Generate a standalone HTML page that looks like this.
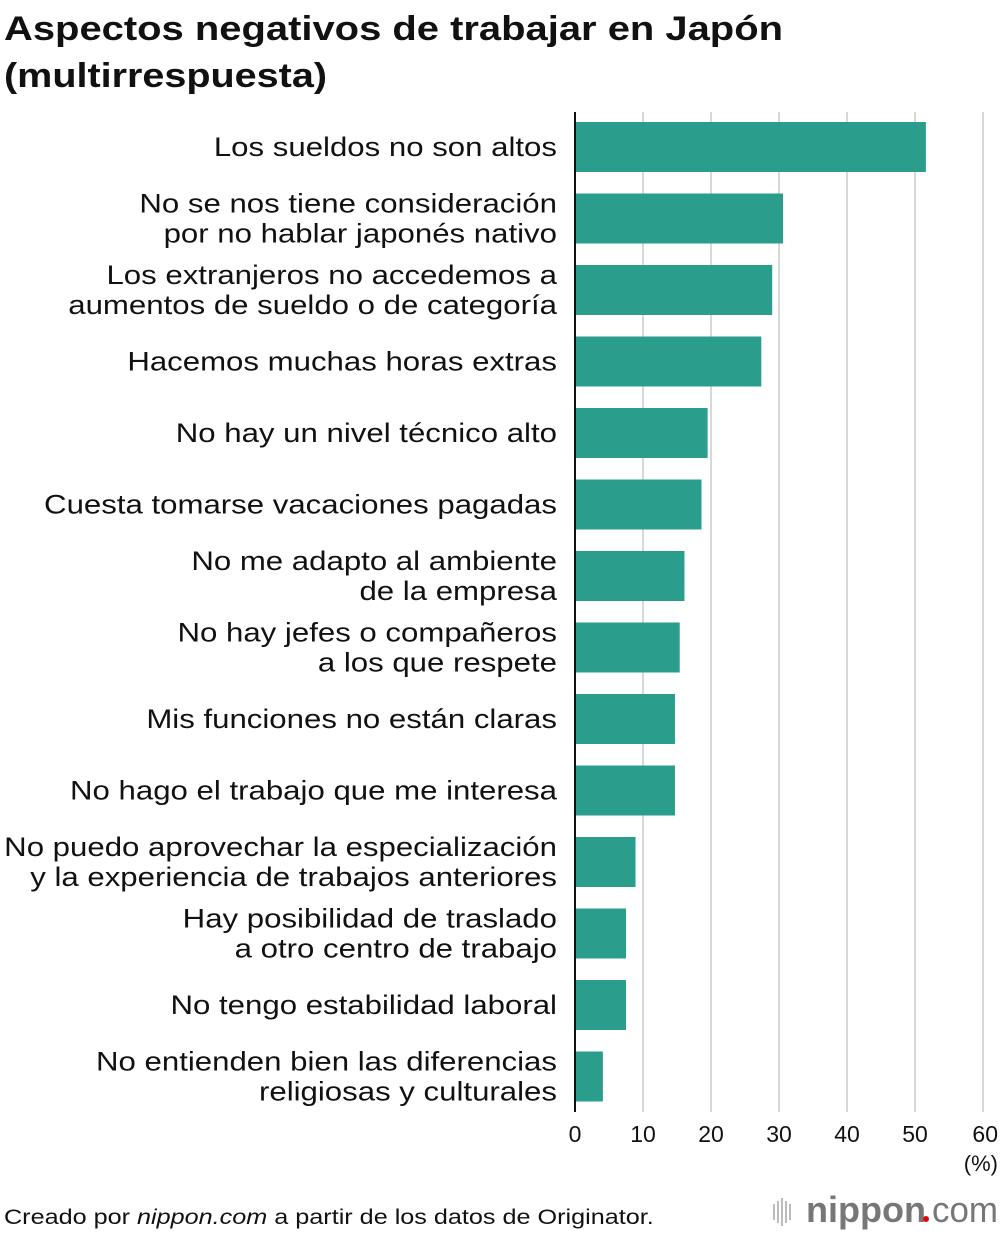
<!DOCTYPE html>
<html><head><meta charset="utf-8"><style>
body{margin:0;width:1000px;height:1232px;background:#fff;font-family:"Liberation Sans",sans-serif;overflow:hidden}
svg text{font-family:"Liberation Sans",sans-serif}
</style></head><body>
<svg id="chart" width="1000" height="1232">
<text x="4" y="40" font-size="34" font-weight="bold" fill="#111" textLength="779" lengthAdjust="spacingAndGlyphs">Aspectos negativos de trabajar en Japón</text>
<text x="4" y="87" font-size="34" font-weight="bold" fill="#111" textLength="323" lengthAdjust="spacingAndGlyphs">(multirrespuesta)</text>
<g id="grid"></g><g id="bars"></g><g id="labels" transform="translate(557,0) scale(1.155,1) translate(-557,0)"></g><g id="ticks"></g>
<text x="998" y="1171" font-size="22" text-anchor="end" fill="#111">(%)</text>
<g transform="translate(4,0) scale(1.2,1) translate(-4,0)"><text x="4" y="1224" font-size="21" fill="#111">Creado por <tspan font-style="italic">nippon.com</tspan> a partir de los datos de Originator.</text></g>
<g>
<g fill="#bbb"><rect x="773" y="1204" width="2" height="16"/><rect x="777" y="1201" width="2" height="22"/><rect x="781" y="1198" width="2" height="28"/><rect x="785" y="1201" width="2" height="22"/><rect x="789" y="1204" width="2" height="16"/></g>
<text x="806" y="1222" font-size="36" font-weight="bold" fill="#777" textLength="120" lengthAdjust="spacingAndGlyphs">nippon</text>
<circle cx="926" cy="1219" r="3" fill="#e00"/>
<text x="932" y="1222" font-size="36" fill="#777" textLength="66" lengthAdjust="spacingAndGlyphs">com</text>
</g>
</svg>
<script>
const categories=[
["Los sueldos no son altos"],
["No se nos tiene consideración","por no hablar japonés nativo"],
["Los extranjeros no accedemos a","aumentos de sueldo o de categoría"],
["Hacemos muchas horas extras"],
["No hay un nivel técnico alto"],
["Cuesta tomarse vacaciones pagadas"],
["No me adapto al ambiente","de la empresa"],
["No hay jefes o compañeros","a los que respete"],
["Mis funciones no están claras"],
["No hago el trabajo que me interesa"],
["No puedo aprovechar la especialización","y la experiencia de trabajos anteriores"],
["Hay posibilidad de traslado","a otro centro de trabajo"],
["No tengo estabilidad laboral"],
["No entienden bien las diferencias","religiosas y culturales"]];
const values=[51.6,30.6,29.0,27.4,19.5,18.6,16.1,15.4,14.7,14.7,8.9,7.5,7.5,4.1];
const tickValues=[0,10,20,30,40,50,60];
const NS="http://www.w3.org/2000/svg";
const x=v=>575+v*(983-575)/60;
const yTop=i=>122+i*71.5;
function mk(t,a,p){const e=document.createElementNS(NS,t);for(const k in a)e.setAttribute(k,a[k]);p.appendChild(e);return e;}
const G=document.getElementById('grid'),B=document.getElementById('bars'),L=document.getElementById('labels'),T=document.getElementById('ticks');
tickValues.forEach(v=>{
 if(v>0){const g=mk('line',{x1:x(v),x2:x(v),y1:112,y2:1112,stroke:'#ccc','stroke-width':1.5},G);
 
 }
 const t=mk('text',{x:v==60?998:x(v),y:1142,'font-size':23,'text-anchor':v==60?'end':'middle',fill:'#111'},T);t.textContent=v;
 
 
});
values.forEach((v,i)=>{
 const r=mk('rect',{x:x(0),y:yTop(i),width:x(v)-x(0),height:50,fill:'#2a9d8c'},B);
 
 
 const lines=categories[i],cy=yTop(i)+25;
 lines.forEach((s,j)=>{
  const yy=lines.length==1?cy+9:cy-6+j*30;
  const t=mk('text',{x:557,y:yy,'font-size':27,'text-anchor':'end',fill:'#111'},L);t.textContent=s;
  
  
 });
});
const ax=mk('line',{x1:575,x2:575,y1:112,y2:1112,stroke:'#111','stroke-width':2},T);


</script>
</body></html>
